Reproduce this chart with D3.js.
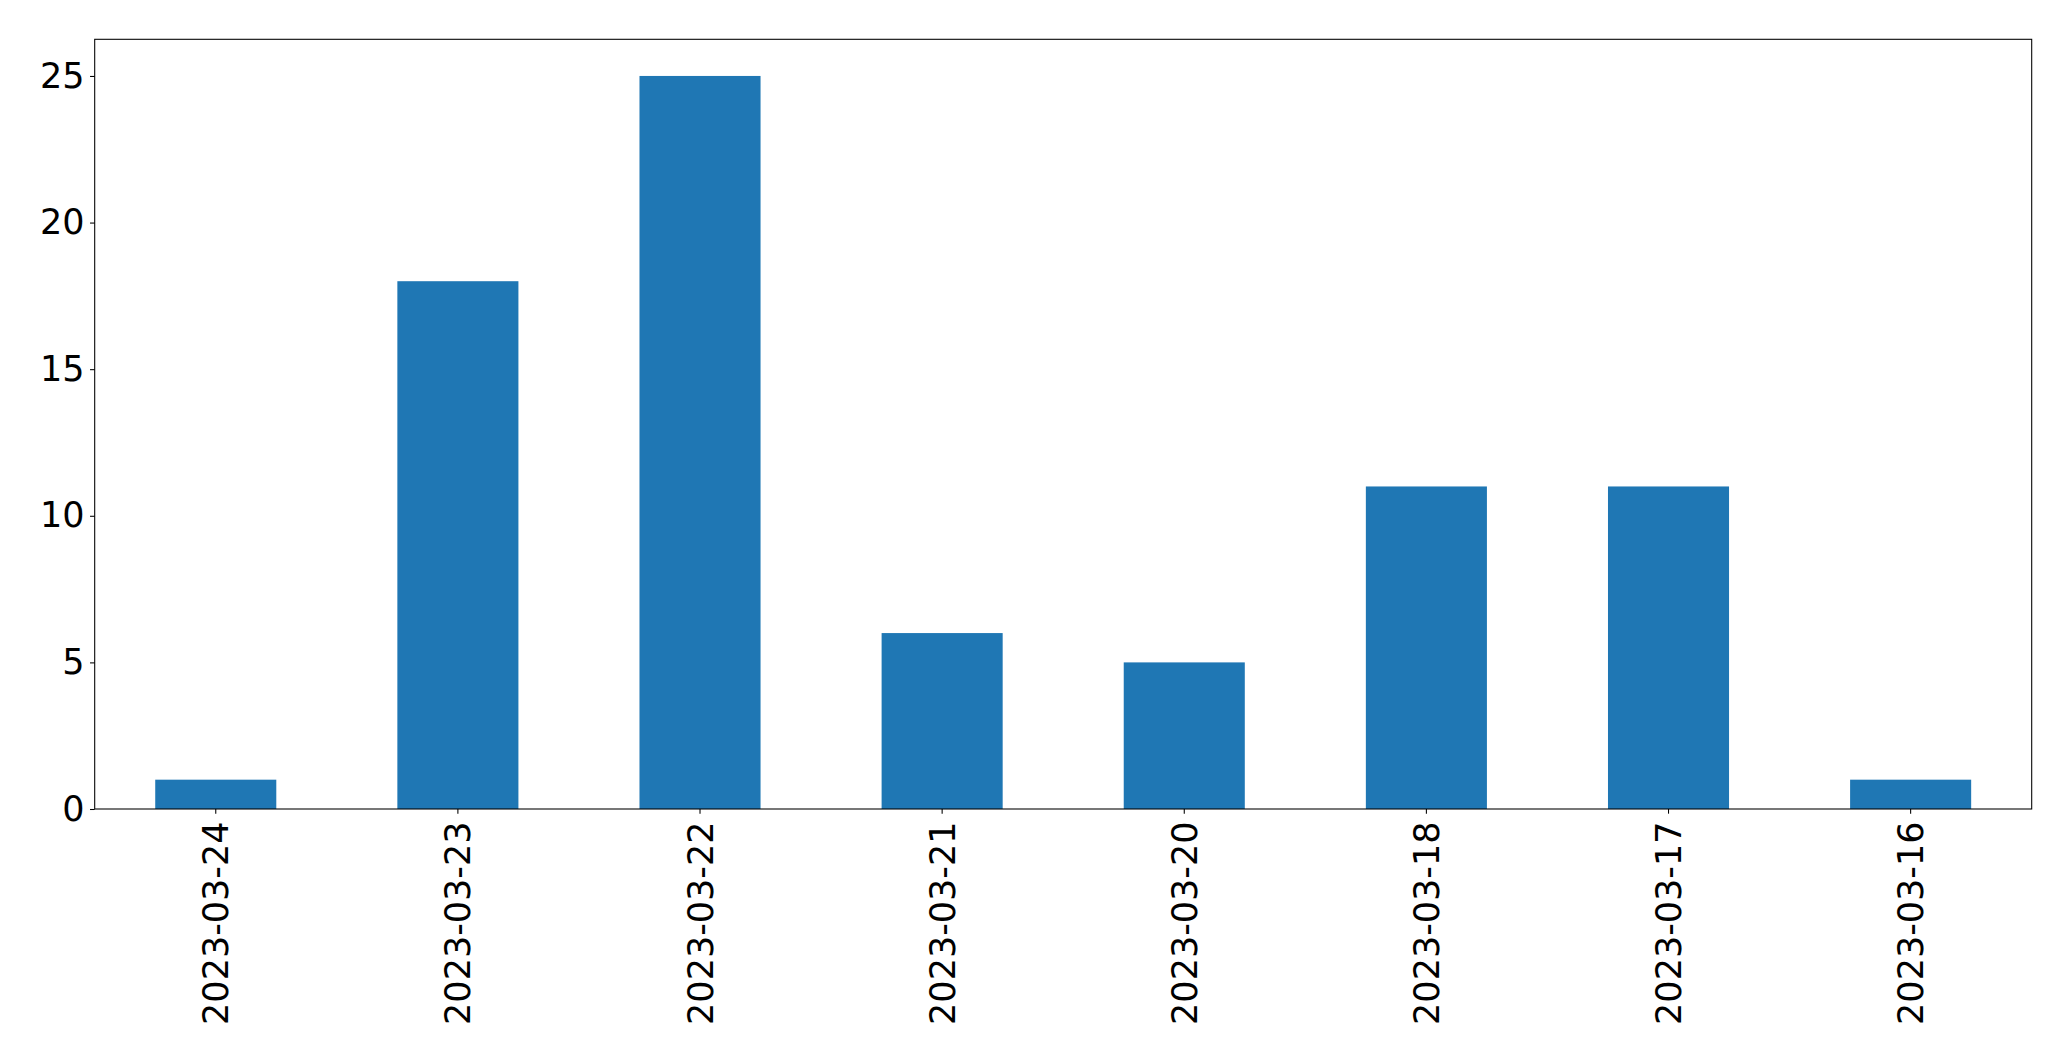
<!DOCTYPE html>
<html>
<head>
<meta charset="utf-8">
<script src="https://cdn.jsdelivr.net/npm/d3@7"></script>
<style>
  html, body { margin: 0; padding: 0; background: #fff; }
  svg { display: block; }
  text { font-family: "DejaVu Sans", sans-serif; fill: #000; }
</style>
</head>
<body>
<svg id="chart" width="2071" height="1061"></svg>
<script>
const categories = ["2023-03-24", "2023-03-23", "2023-03-22", "2023-03-21", "2023-03-20", "2023-03-18", "2023-03-17", "2023-03-16"];
const values = [1, 18, 25, 6, 5, 11, 11, 1];
const yTicks = [0, 5, 10, 15, 20, 25];

const W = 2071, H = 1061;
const margin = { left: 94.7, right: W - 2031.7, top: 39.3, bottom: H - 809 };
const svg = d3.select("#chart");
const plotW = W - margin.left - margin.right;
const plotH = H - margin.top - margin.bottom;
const g = svg.append("g").attr("transform", `translate(${margin.left},${margin.top})`);

const x = d3.scaleBand().domain(categories).range([0, plotW]).paddingInner(0.5).paddingOuter(0.25);
const y = d3.scaleLinear().domain([0, 26.25]).range([plotH, 0]);

g.selectAll("rect.bar").data(categories).enter().append("rect")
  .attr("class", "bar")
  .attr("x", d => x(d))
  .attr("width", x.bandwidth())
  .attr("y", (d, i) => y(values[i]))
  .attr("height", (d, i) => y(0) - y(values[i]))
  .attr("fill", "#1f77b4");

const fs = 35;
const tickLen = 4.67;

// y axis
const yAxis = g.append("g").call(d3.axisLeft(y).tickValues(yTicks).tickSize(tickLen).tickPadding(5.5).tickFormat(d3.format("d")));
yAxis.select(".domain").remove();
yAxis.selectAll("line").attr("stroke", "#000").attr("stroke-width", 1.07);
yAxis.selectAll("text").style("font-size", fs + "px").attr("font-family", "DejaVu Sans");

// x axis
const xAxis = g.append("g").attr("transform", `translate(0,${plotH})`).call(d3.axisBottom(x).tickSize(tickLen).tickPadding(0));
xAxis.select(".domain").remove();
xAxis.selectAll("line").attr("stroke", "#000").attr("stroke-width", 1.07);
xAxis.selectAll("text")
  .style("font-size", fs + "px")
  .attr("font-family", "DejaVu Sans")
  .attr("text-anchor", "end")
  .attr("transform", "rotate(-90)")
  .attr("x", -12.5)
  .attr("y", 0)
  .attr("dy", "0.36em");

// frame
g.append("rect").attr("x", 0).attr("y", 0).attr("width", plotW).attr("height", plotH)
  .attr("fill", "none").attr("stroke", "#000").attr("stroke-width", 1.07);
</script>
</body>
</html>
